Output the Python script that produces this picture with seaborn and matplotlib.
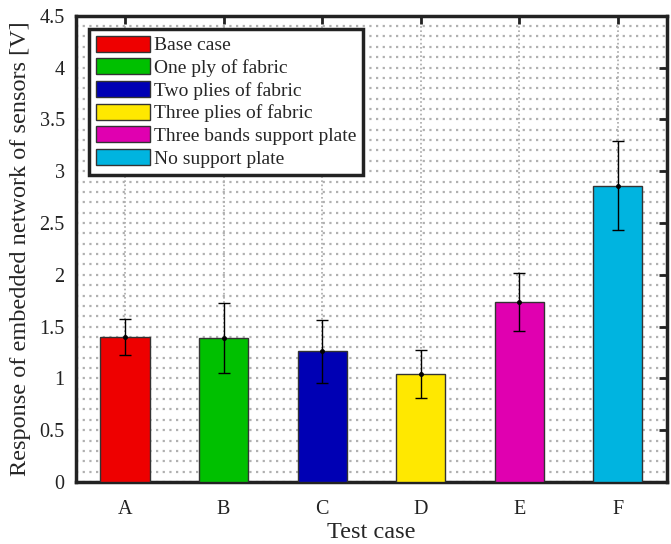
import numpy as np
import matplotlib
matplotlib.use("Agg")
import matplotlib.pyplot as plt
from matplotlib.ticker import MultipleLocator
import seaborn as sns

# Data
cases = ["A", "B", "C", "D", "E", "F"]
descriptions = ["Base case", "One ply of fabric", "Two plies of fabric",
                "Three plies of fabric", "Three bands support plate", "No support plate"]
means = [1.40, 1.39, 1.26, 1.04, 1.74, 2.86]
errors = [0.17, 0.34, 0.30, 0.23, 0.28, 0.43]
colors = ["#ee0000", "#00c000", "#0000b4", "#ffe800", "#e000b0", "#00b4e0"]

sns.set_style("white")
plt.rcParams["font.family"] = ["Liberation Serif", "DejaVu Serif"]

fig = plt.figure(figsize=(6.71, 5.44), dpi=100)
ax = fig.add_axes([0.113, 0.114, 0.881, 0.857])

sns.barplot(x=cases, y=means, hue=descriptions, palette=colors, dodge=False,
            saturation=1, width=0.5, edgecolor="#333333", linewidth=1,
            ax=ax, zorder=3)
ax.errorbar(np.arange(len(cases)), means, yerr=errors, fmt=".", color="black",
            ecolor="black", elinewidth=1, capsize=4, capthick=1,
            markersize=5, zorder=4)

ax.set_xlim(-0.5, 5.5)
ax.set_ylim(0, 4.5)
ax.yaxis.set_minor_locator(MultipleLocator(0.1))
ax.set_yticks(np.arange(0, 4.51, 0.5))
ax.set_yticklabels(["0", "0.5", "1", "1.5", "2", "2.5", "3", "3.5", "4", "4.5"])

ax.grid(True, which="both", axis="y", linestyle=(0, (1, 2)), color="#b0b0b0",
        linewidth=1.6, zorder=0)
ax.grid(True, which="major", axis="x", linestyle=(0, (1, 1.5)), color="#a8a8a8",
        linewidth=1.2, zorder=0)
ax.set_axisbelow(True)

ax.tick_params(axis="both", which="major", direction="in", length=6, width=2,
               top=True, right=True, labelsize=14.5, colors="#222222", pad=8)
ax.tick_params(axis="x", which="major", pad=13)
ax.tick_params(axis="both", which="minor", length=0)
for s in ax.spines.values():
    s.set_linewidth(2.5)
    s.set_color("#222222")

ax.set_xlabel("Test case", fontsize=17.5, labelpad=2)
ax.set_ylabel("Response of embedded network of sensors [V]", fontsize=17.5, labelpad=6)

handles, labels = ax.get_legend_handles_labels()
leg = ax.legend(handles, labels, loc="upper left", bbox_to_anchor=(0.022, 0.972),
                borderaxespad=0, fontsize=14, frameon=True, fancybox=False,
                handlelength=2.8, handleheight=0.9, handletextpad=0.2,
                labelspacing=0.2, borderpad=0.35)
leg.get_frame().set_edgecolor("#222222")
leg.get_frame().set_linewidth(2.5)
leg.get_frame().set_alpha(1)

fig.savefig("out.png", dpi=100)
plt.close(fig)
